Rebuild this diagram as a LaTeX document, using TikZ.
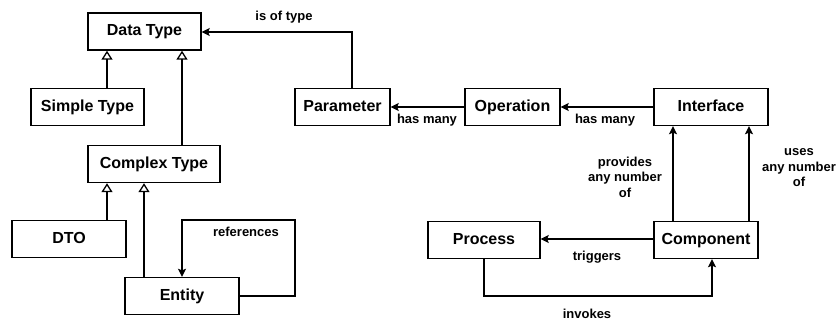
\documentclass[tikz,border=0pt]{standalone}
\usepackage{fontspec}
\setmainfont{Liberation Sans}
\usetikzlibrary{arrows.meta}
\begin{document}
\begin{tikzpicture}[x=1pt,y=-1pt,
  line width=1.4pt,
  box/.style={draw, rectangle, inner sep=0pt, minimum height=37pt,
    text height=11.5pt, text depth=3.2pt,
    font=\fontsize{16}{18}\selectfont\bfseries},
  lbl/.style={font=\fontsize{13}{15.5}\selectfont\bfseries, inner sep=0pt, align=center},
  inherit/.style={-{Triangle[open,length=9pt,width=11pt,line width=1.3pt]}},
  assoc/.style={-{Stealth[length=8pt,width=8pt,inset=1.5pt]}}]
\useasboundingbox (0,0) rectangle (840,320);

% classes
\node[box, minimum width=113pt] (data)    at (144.5,31.5) {Data Type};
\node[box, minimum width=113pt] (simple)  at (87.5,107)   {Simple Type};
\node[box, minimum width=132pt] (complex) at (154,164)    {Complex Type};
\node[box, minimum width=114pt] (dto)     at (69,239)     {DTO};
\node[box, minimum width=114pt] (entity)  at (182,296)    {Entity};
\node[box, minimum width=95pt]  (param)   at (342.5,107)  {Parameter};
\node[box, minimum width=95pt]  (oper)    at (512.5,107)  {Operation};
\node[box, minimum width=114pt] (iface)   at (711,107)    {Interface};
\node[box, minimum width=112pt] (process) at (484,240)    {Process};
\node[box, minimum width=104pt] (comp)    at (706,240)    {Component};

% generalisations
\draw[inherit] (simple.north -| 107,0) -- (data.south -| 107,0);
\draw[inherit] (complex.north -| 182,0) -- (data.south -| 182,0);
\draw[inherit] (dto.north -| 107,0) -- (complex.south -| 107,0);
\draw[inherit] (entity.north -| 144,0) -- (complex.south -| 144,0);

% associations
\coordinate (refA) at (295,296);
\coordinate (refB) at (295,220);
\coordinate (refC) at (182,220);
\draw[assoc] (entity.east |- refA) -- (refA) -- (refB) -- (refC) -- (entity.north);
\node[lbl] (lref) at (246,232) {references};

\coordinate (typA) at (352,32);
\draw[assoc] (param.north -| typA) -- (typA) -- (data.east |- typA);
\node[lbl] (ltyp) at (284,17) {is of type};

\draw[assoc] (oper.west) -- (param.east);
\node[lbl] (lhm1) at (427,120) {has many};
\draw[assoc] (iface.west) -- (oper.east);
\node[lbl] (lhm2) at (605,120) {has many};

\draw[assoc] (comp.north -| 673,0) -- (iface.south -| 673,0);
\node[lbl] (lprov) at (625,177) {provides\\any number\\of};
\draw[assoc] (comp.north -| 749,0) -- (iface.south -| 749,0);
\node[lbl] (luses) at (799,168) {uses\\any number\\of};

\draw[assoc] (comp.west |- 0,239) -- (process.east |- 0,239);
\node[lbl] (ltrig) at (597,257) {triggers};

\coordinate (invA) at (484,296);
\coordinate (invB) at (712,296);
\draw[assoc] (process.south) -- (invA) -- (invB) -- (comp.south -| invB);
\node[lbl] (linv) at (587,314) {invokes};
\end{tikzpicture}
\end{document}
